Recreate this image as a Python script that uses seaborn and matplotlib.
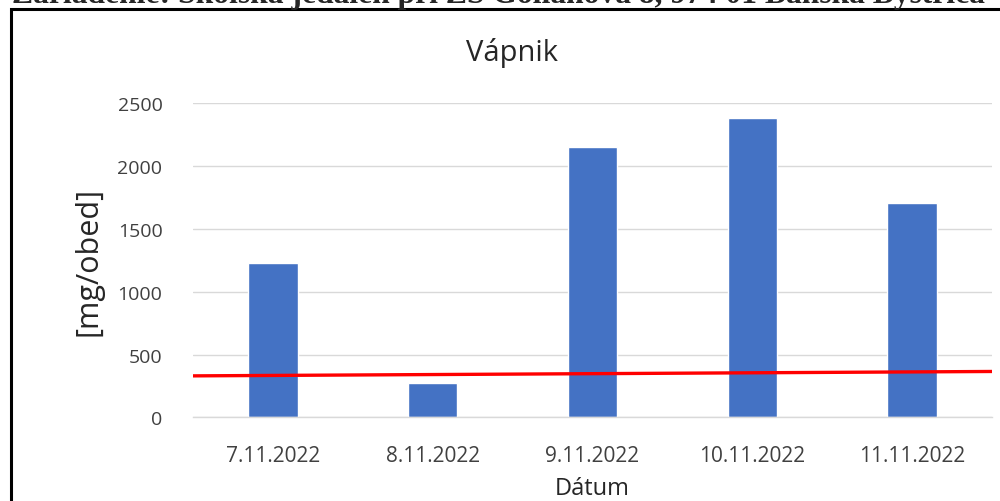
import matplotlib
matplotlib.use("Agg")
import matplotlib.pyplot as plt
from matplotlib.patches import Rectangle
import seaborn as sns
import pandas as pd

# Vapnik (calcium) per lunch, mg
dates = ["7.11.2022", "8.11.2022", "9.11.2022", "10.11.2022", "11.11.2022"]
calcium = [1230, 270, 2155, 2380, 1710]
# red reference line, value at the left and right edge of the plot
ref_start = 330
ref_end = 365
y_ticks = [0, 500, 1000, 1500, 2000, 2500]

header = "Zariadenie: Školská jedáleň pri ZŠ Golianova 8, 974 01 Banská Bystrica"

sns.set_style("white")
plt.rcParams['font.family'] = ['Open Sans', 'DejaVu Sans']

df = pd.DataFrame({"Dátum": dates, "Vápnik": calcium})

fig = plt.figure(figsize=(10, 5.02), dpi=100)
ax = fig.add_axes([0.193, 0.1667, 0.799, 0.6255])

sns.barplot(data=df, x="Dátum", y="Vápnik", color="#4472C4", width=0.31,
            saturation=1, ax=ax, zorder=2)

# red line across the whole plot width
ax.plot([-0.5, len(dates) - 0.5], [ref_start, ref_end], color="#FF0000",
        lw=2.4, zorder=3, solid_capstyle="butt", clip_on=False)

ax.set_xlim(-0.5, len(dates) - 0.5)
ax.set_ylim(0, 2500)
ax.set_yticks(y_ticks)
ax.grid(axis="y", color="#D9D9D9", lw=1, zorder=0)
ax.set_axisbelow(True)

for s in ["top", "right", "left"]:
    ax.spines[s].set_visible(False)
ax.spines["bottom"].set_color("#D9D9D9")
ax.spines["bottom"].set_linewidth(1)

# category boundary ticks
ax.set_xticks([i - 0.5 for i in range(len(dates) + 1)], minor=True)
ax.tick_params(axis="x", which="minor", length=6, color="#D9D9D9", width=1)
ax.tick_params(axis="x", which="major", length=0, pad=20, labelsize=15,
               labelcolor="#404040")
ax.tick_params(axis="y", length=0, pad=22, labelsize=14, labelcolor="#404040")

ax.set_xlabel("Dátum", fontsize=17, color="#262626", labelpad=7)
ax.set_ylabel("[mg/obed]", fontsize=22, color="#262626", labelpad=10)
fig.text(0.512, 0.895, "Vápnik", ha="center", va="center", fontsize=21,
         color="#262626")

# document header cut off at the top, and the frame around the chart
fig.text(0.012, 0.994, header, ha="left", va="baseline", fontsize=22.7,
         fontweight="bold", family=["Liberation Serif", "DejaVu Serif"])
fig.patches.append(Rectangle((0.011, -0.2), 1.2, 1.2 - 10 / 502,
                             transform=fig.transFigure, fill=False,
                             edgecolor="black", lw=2.2, clip_on=False))

fig.savefig("out.png", dpi=100)
